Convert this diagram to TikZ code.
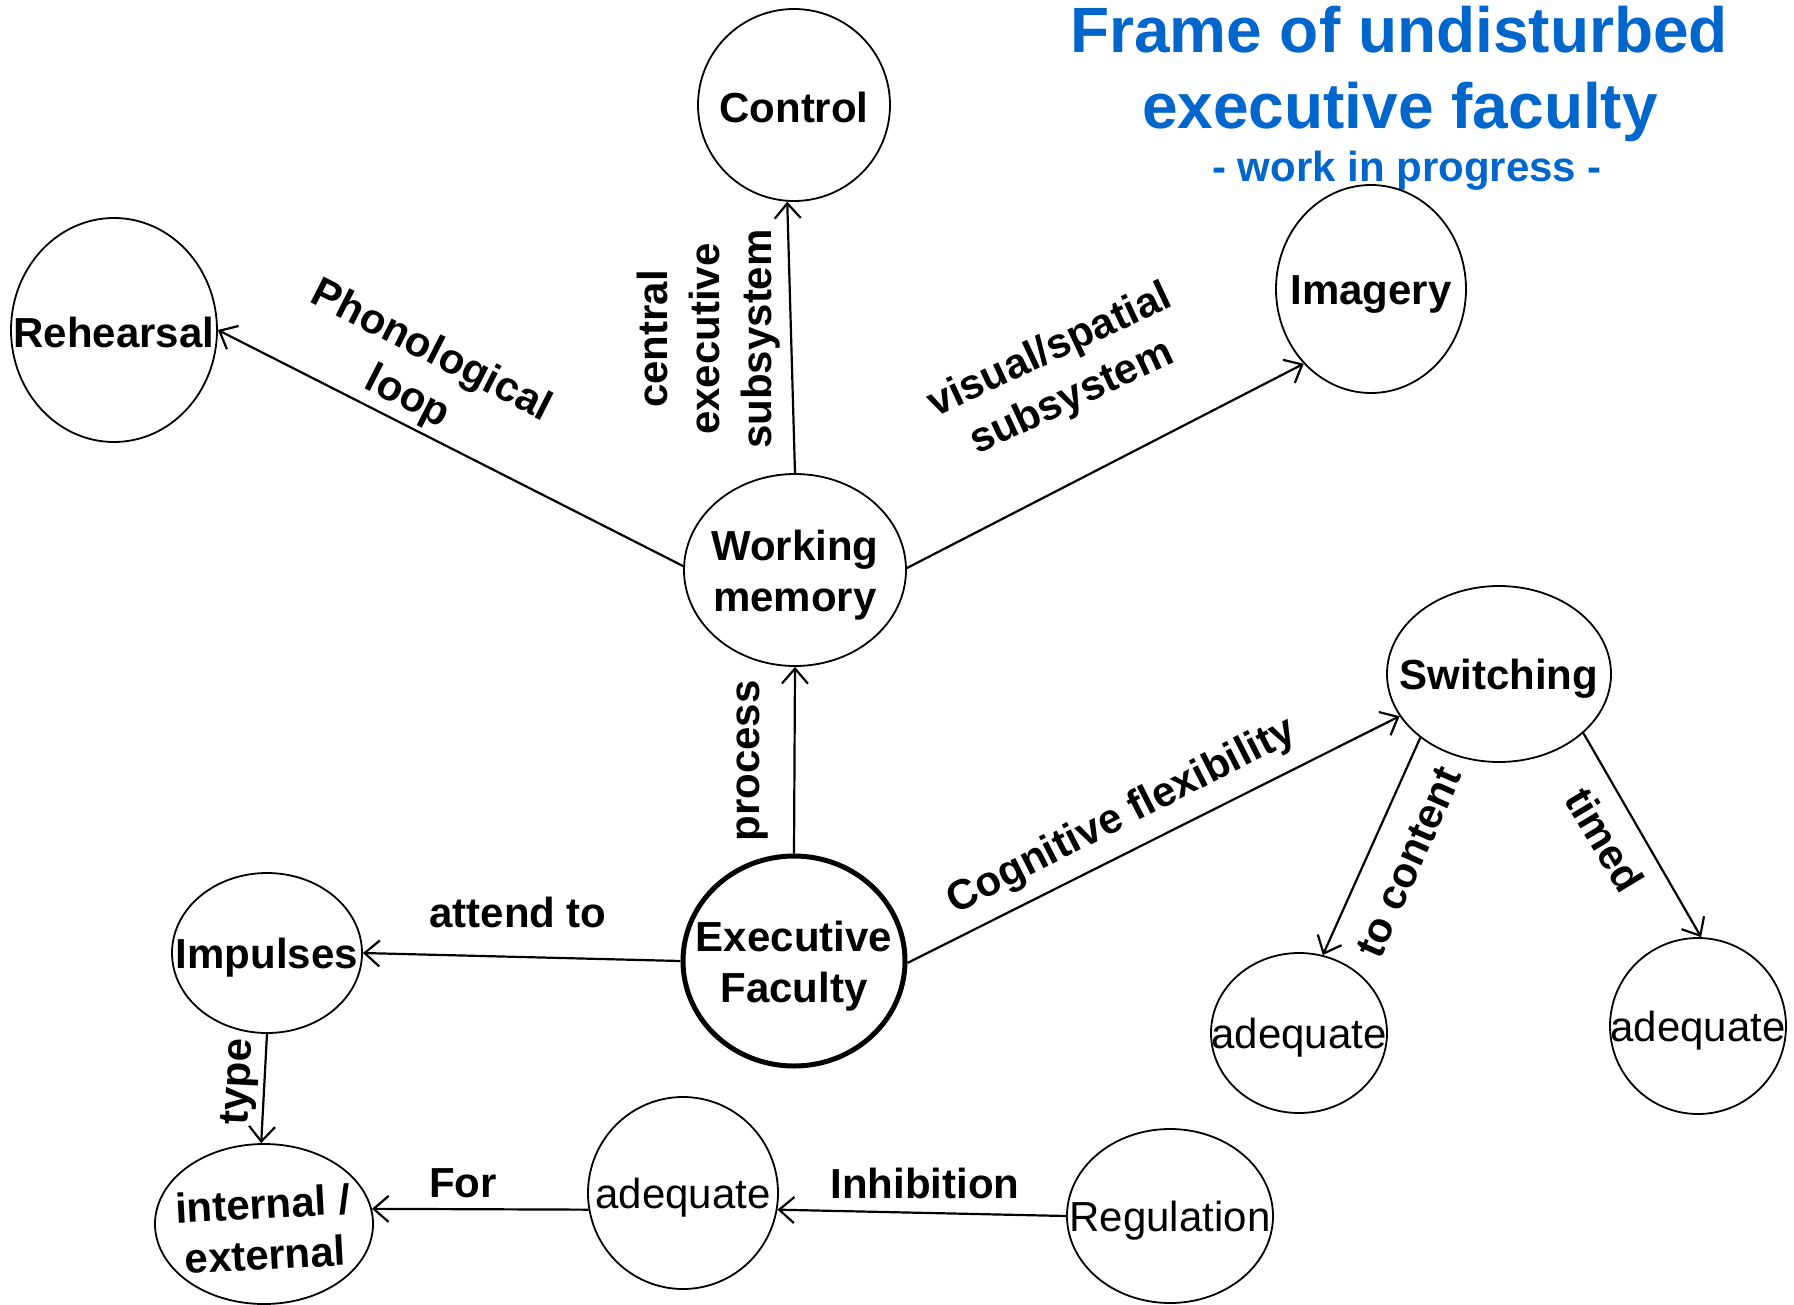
\documentclass[tikz,border=0pt]{standalone}
\usepackage{fontspec}
\setmainfont{Liberation Sans}
\usetikzlibrary{shapes.geometric,arrows.meta}
\definecolor{titleblue}{RGB}{0,102,204}

\begin{document}
\begin{tikzpicture}[x=1pt,y=-1pt,
  bubble/.style={ellipse, draw, line width=1.8pt, inner sep=0pt},
  bold text/.style={font=\fontsize{42}{51}\selectfont\bfseries, align=center, inner sep=0pt, yshift=-5pt},
  light text/.style={font=\fontsize{42}{51}\selectfont, align=center, inner sep=0pt, yshift=-5pt},
  link/.style={line width=2.2pt, -{Straight Barb[length=15pt,width=26pt,line width=2.2pt]}},
  elabel/.style={font=\fontsize{42}{52}\selectfont\bfseries, align=center, inner sep=0pt},
  headline/.style={font=\fontsize{64}{76}\selectfont\bfseries, text=titleblue, inner sep=0pt, anchor=base},
  subline/.style={font=\fontsize{42}{50}\selectfont\bfseries, text=titleblue, inner sep=0pt, anchor=base},
]
\useasboundingbox (0,0) rectangle (1794,1304);

% title
\node[headline] (t1) at (1399,52) {Frame of undisturbed};
\node[headline] (t2) at (1400,128) {executive faculty};
\node[subline]  (t3) at (1407,181) {- work in progress -};

% concept bubbles
\node[bubble, minimum width=192, minimum height=192,
      label={[bold text,name=ctl-t,yshift=3pt]center:Control}] (ctl) at (794,105) {};
\node[bubble, minimum width=206, minimum height=224,
      label={[bold text,name=reh-t,yshift=3pt]center:Rehearsal}] (reh) at (114,330) {};
\node[bubble, minimum width=190, minimum height=208,
      label={[bold text,name=img-t]center:Imagery}] (img) at (1371,289) {};
\node[bubble, minimum width=222, minimum height=192,
      label={[bold text,name=wm-t]center:Working\\memory}] (wm) at (795,570) {};
\node[bubble, minimum width=224, minimum height=176,
      label={[bold text,name=sw-t]center:Switching}] (sw) at (1499,674) {};
\node[bubble, line width=5pt, minimum width=222, minimum height=210,
      label={[bold text,name=ef-t]center:Executive\\Faculty}] (ef) at (794,961) {};
\node[bubble, minimum width=190, minimum height=160,
      label={[bold text,name=imp-t]center:Impulses}] (imp) at (267,953) {};
\node[bubble, minimum width=218, minimum height=160,
      label={[bold text,rotate=3,name=int-t]center:internal /\\external}] (int) at (264,1224) {};
\node[bubble, minimum width=190, minimum height=192,
      label={[light text,name=adm-t]center:adequate}] (adm) at (683,1193) {};
\node[bubble, minimum width=206, minimum height=174,
      label={[light text,name=reg-t]center:Regulation}] (reg) at (1170,1216) {};
\node[bubble, minimum width=176, minimum height=160,
      label={[light text,name=adl-t]center:adequate}] (adl) at (1299,1033) {};
\node[bubble, minimum width=176, minimum height=176,
      label={[light text,name=adr-t]center:adequate}] (adr) at (1698,1026) {};

% connectors
\draw[link] (wm.90)  -- (ctl.266);
\draw[link] (wm.178) -- (reh.0);
\draw[link] (wm.1)   -- (img.228);
\draw[link] (ef.90)  -- (wm.270);
\draw[link] (ef.359) -- (sw.203);
\draw[link] (ef.180) -- (imp.0);
\draw[link] (imp.270) -- (int.92);
\draw[link] (adm.190) -- (int.8);
\draw[link] (reg.180) -- (adm.350);
\draw[link] (sw.219) -- (adl.73);
\draw[link] (sw.325) -- (adr.88);

% connector labels
\node[elabel, rotate=-27] (l-phon) at (419,375) {Phonological\\loop};
\node[elabel, rotate=90]  (l-cen) at (709,339) {central\\executive\\subsystem};
\node[elabel, rotate=25]  (l-vis) at (1061,375) {visual/spatial\\subsystem};
\node[elabel, rotate=90]  (l-proc) at (753,761) {process};
\node[elabel, rotate=27]  (l-cog) at (1122,817) {Cognitive flexibility};
\node[elabel]             (l-att) at (518,912) {attend to};
\node[elabel, rotate=87]  (l-type) at (240,1082) {type};
\node[elabel]             (l-for) at (463,1183) {For};
\node[elabel]             (l-inh) at (925,1183) {Inhibition};
\node[elabel, rotate=66]  (l-cont) at (1409,862) {to content};
\node[elabel, rotate=-59] (l-timed) at (1605,840) {timed};
\end{tikzpicture}
\end{document}
